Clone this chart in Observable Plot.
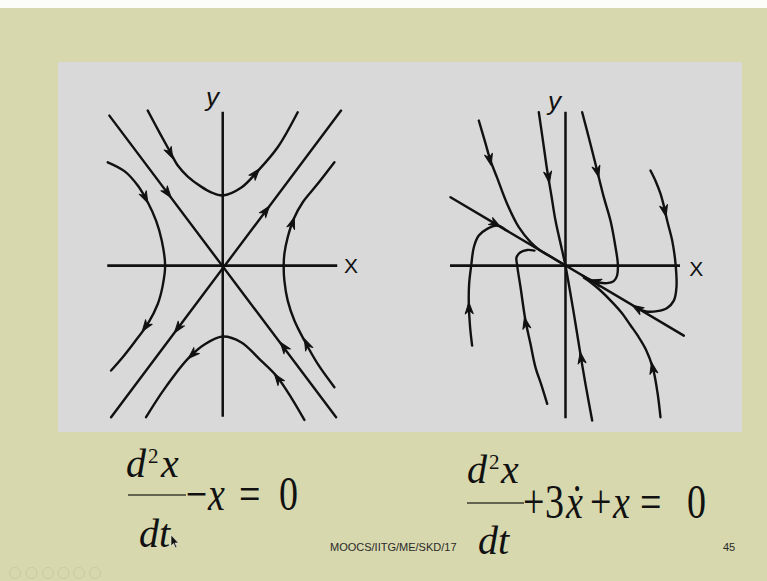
<!DOCTYPE html>
<html>
<head>
<meta charset="utf-8">
<script src="https://cdn.jsdelivr.net/npm/d3@7"></script>
<script src="https://cdn.jsdelivr.net/npm/@observablehq/plot@0.6"></script>
<style>
  html, body { margin: 0; padding: 0; }
  body { width: 767px; height: 581px; overflow: hidden; background: #d7d8ad; }
  #slide { position: relative; width: 767px; height: 581px; }
  #band { position: absolute; left: 0; top: 0; width: 767px; height: 8px; background: #fcfcf8; }
  #panel { position: absolute; left: 58px; top: 62px; width: 684px; height: 370px; background: #d9d9d9; }
  .portrait { position: absolute; top: 70px; }
  .portrait svg { display: block; }
  #saddle { left: 90px; }
  #node { left: 430px; }
  #overlay { position: absolute; left: 0; top: 0; }
</style>
</head>
<body>
<div id="slide">
  <div id="band"></div>
  <div id="panel"></div>
  <div id="saddle" class="portrait"></div>
  <div id="node" class="portrait"></div>
  <svg id="overlay" width="767" height="581" font-family="'Liberation Serif','Times New Roman',serif" fill="#111">
    <!-- d²x/dt² − x = 0 -->
    <text x="126" y="477" font-size="40" font-style="italic">d</text>
    <text x="148" y="463" font-size="21">2</text>
    <text x="161" y="477" font-size="40" font-style="italic">x</text>
    <line x1="128" x2="186" y1="495" y2="495" stroke="#3c3c34" stroke-width="1.6"/>
    <text x="139" y="547" font-size="40" font-style="italic">dt</text>
    <g transform="translate(0,510) scale(1,1.25)" font-size="38">
      <text x="186" y="0">−</text>
      <text x="208" y="0" font-style="italic">x</text>
      <text x="239" y="0">=</text>
      <text x="279" y="0">0</text>
    </g>
    <!-- pointer -->
    <path d="M171,535 L171,546 L173.5,543.5 L175.5,548 L177,547.3 L175,543 L178.5,543 Z" fill="#111" stroke="#f4f4f0" stroke-width="0.6"/>
    <!-- d²x/dt² + 3ẋ + x = 0 -->
    <text x="467" y="483" font-size="40" font-style="italic">d</text>
    <text x="489" y="469" font-size="21">2</text>
    <text x="501" y="483" font-size="40" font-style="italic">x</text>
    <line x1="467" x2="524" y1="503" y2="503" stroke="#3c3c34" stroke-width="1.6"/>
    <text x="478" y="554" font-size="40" font-style="italic">dt</text>
    <g transform="translate(0,518) scale(1,1.3)" font-size="38">
      <text x="523" y="0">+</text>
      <text x="545" y="0">3</text>
      <text x="566" y="0" font-style="italic">x&#x307;</text>
      <text x="590" y="0">+</text>
      <text x="613" y="0" font-style="italic">x</text>
      <text x="640" y="0">=</text>
      <text x="687" y="0">0</text>
    </g>
    <!-- footer -->
    <g font-family="'Liberation Sans',Arial,sans-serif" font-size="11" fill="#2a2a2a">
      <text x="330" y="551">MOOCS/IITG/ME/SKD/17</text>
      <text x="723" y="551">45</text>
    </g>
    <!-- viewer toolbar -->
    <g fill="none" stroke="#c9caa1" stroke-width="1">
      <circle cx="15" cy="573" r="5.5"/>
      <circle cx="31.5" cy="573" r="5.5"/>
      <circle cx="48" cy="573" r="5.5"/>
      <circle cx="63.5" cy="573" r="5.5"/>
      <circle cx="79" cy="573" r="5.5"/>
      <circle cx="95" cy="573" r="5.5"/>
    </g>
  </svg>
</div>
<script>
const INK = "#111";
const yDomain = [-1.078, 1.275];

// ---- Saddle point: x'' - x = 0, phase plane (x, y = x') ----
const saddleXAxis = [-1.0, 1.0];
const saddleYAxis = [-0.991, 1.002];
const saddleStable = [[-0.986, 0.98], [0.986, -0.991]];
const saddleUnstable = [[-0.971, -0.991], [1.029, 1.013]];
const saddleUpper = [[-0.652, 1.013], [-0.551, 0.871], [-0.464, 0.752], [-0.391, 0.654], [-0.304, 0.582],
  [-0.188, 0.516], [-0.101, 0.479], [0, 0.458], [0.159, 0.508], [0.304, 0.617], [0.478, 0.773], [0.652, 1.002]];
const saddleLower = [[-0.667, -0.991], [-0.507, -0.806], [-0.304, -0.61], [-0.159, -0.516], [0, -0.464],
  [0.159, -0.501], [0.333, -0.621], [0.464, -0.719], [0.594, -0.861], [0.71, -1.009]];
const saddleLeft = [[-1.0, 0.675], [-0.855, 0.617], [-0.739, 0.523], [-0.652, 0.414], [-0.58, 0.294],
  [-0.53, 0.163], [-0.501, 0], [-0.522, -0.131], [-0.565, -0.251], [-0.652, -0.381], [-0.768, -0.501],
  [-0.87, -0.599], [-0.971, -0.686]];
const saddleRight = [[0.971, 0.675], [0.826, 0.534], [0.696, 0.414], [0.617, 0.305], [0.565, 0.185],
  [0.536, 0.076], [0.53, 0], [0.536, -0.098], [0.565, -0.229], [0.623, -0.359], [0.71, -0.49],
  [0.826, -0.643], [0.971, -0.795]];
// flow direction markers: [from x, from y, tip x, tip y]
const saddleArrows = [
  [-0.50, 0.80, -0.435, 0.70], [0.25, 0.57, 0.319, 0.632],
  [-0.52, 0.515, -0.449, 0.445], [0.34, 0.323, 0.406, 0.389],
  [-0.71, 0.50, -0.652, 0.41], [0.585, 0.23, 0.623, 0.316],
  [-0.63, -0.355, -0.70, -0.43], [-0.35, -0.369, -0.42, -0.439],
  [-0.22, -0.55, -0.30, -0.607], [0.57, -0.571, 0.50, -0.501],
  [0.53, -0.79, 0.449, -0.708], [0.76, -0.56, 0.71, -0.479]
];
const saddleYLabel = [-0.089, 1.098];
const saddleXLabel = [1.116, -0.007];

// ---- Stable node: x'' + 3x' + x = 0 ----
const nodeXAxis = [-1.0, 1.0];
const nodeYAxis = [-1.002, 1.002];
const nodeSlow = [[-1.0, 0.447], [1.029, -0.458]];
const nodeB = [[-0.754, 0.948], [-0.70, 0.81], [-0.652, 0.686], [-0.595, 0.575], [-0.507, 0.403],
  [-0.406, 0.251], [-0.304, 0.153], [-0.232, 0.105], [-0.12, 0.054], [0, 0]];
const nodeC = [[-0.232, 1.002], [-0.195, 0.81], [-0.159, 0.621], [-0.122, 0.455], [-0.087, 0.294],
  [-0.029, 0.098], [0, 0]];
const nodeD = [[0.145, 1.002], [0.217, 0.795], [0.275, 0.621], [0.333, 0.447], [0.391, 0.294],
  [0.435, 0.12], [0.455, 0.011], [0.449, -0.065], [0.42, -0.102], [0.362, -0.115], [0.29, -0.111],
  [0.217, -0.094], [0.15, -0.066]];
const nodeE = [[0.739, 0.621], [0.785, 0.55], [0.826, 0.47], [0.862, 0.37], [0.884, 0.294], [0.928, 0.163],
  [0.957, 0.011], [0.965, -0.142], [0.942, -0.229], [0.884, -0.277], [0.797, -0.298], [0.70, -0.30],
  [0.62, -0.278]];
const nodeF = [[-0.812, -0.523], [-0.83, -0.40], [-0.841, -0.25], [-0.838, -0.12], [-0.82, 0],
  [-0.797, 0.12], [-0.754, 0.196], [-0.681, 0.24], [-0.594, 0.262], [-0.52, 0.232]];
const nodeG = [[-0.159, -0.904], [-0.21, -0.78], [-0.261, -0.665], [-0.305, -0.51], [-0.348, -0.359],
  [-0.391, -0.142], [-0.42, 0], [-0.426, 0.054], [-0.391, 0.087], [-0.333, 0.102], [-0.27, 0.098]];
const nodeH = [[0, 0], [0.04, -0.17], [0.085, -0.37], [0.13, -0.58], [0.175, -0.78], [0.232, -1.013]];
const nodeI = [[0.826, -0.991], [0.80, -0.83], [0.76, -0.67], [0.70, -0.55], [0.63, -0.46], [0.565, -0.39],
  [0.49, -0.31], [0.42, -0.25], [0.304, -0.163], [0.217, -0.109], [0.16, -0.08]];
const nodeArrows = [
  [-0.68, 0.76, -0.646, 0.655], [-0.165, 0.66, -0.14, 0.54], [0.255, 0.68, 0.29, 0.577],
  [0.845, 0.42, 0.875, 0.32], [-0.65, 0.29, -0.565, 0.253], [0.67, -0.30, 0.58, -0.259],
  [0.29, -0.111, 0.212, -0.094], [-0.835, -0.36, -0.841, -0.24], [-0.315, -0.49, -0.357, -0.338],
  [0.155, -0.69, 0.128, -0.565], [0.775, -0.73, 0.748, -0.632]
];
const nodeYLabel = [-0.096, 1.072];
const nodeXLabel = [1.137, -0.022];

// barbed arrowhead with its tip at the anchor point
const headShape = {
  draw(context, l) {
    context.moveTo(0, -l);
    context.lineTo(-4, -l + 11.5);
    context.lineTo(0, -l + 8);
    context.lineTo(4, -l + 11.5);
    context.closePath();
  }
};

function portrait(el, {width, xDomain, xAxis, yAxis, curves, arrows, yLabel, xLabel}) {
  const height = 360;
  const kx = width / (xDomain[1] - xDomain[0]);
  const ky = height / (yDomain[1] - yDomain[0]);
  const pts = curves.flatMap((c, k) => c.map(([x, y]) => ({x, y, k})));
  const heads = arrows.map(([x1, y1, x2, y2]) => ({
    x: x2, y: y2,
    r: Math.atan2((x2 - x1) * kx, (y2 - y1) * ky) * 180 / Math.PI
  }));
  const chart = Plot.plot({
    width, height, margin: 0,
    x: {domain: xDomain, axis: null},
    y: {domain: yDomain, axis: null},
    style: {background: "transparent", overflow: "visible"},
    marks: [
      Plot.ruleY([{y: 0, x1: xAxis[0], x2: xAxis[1]}], {y: "y", x1: "x1", x2: "x2", stroke: INK, strokeWidth: 2.8}),
      Plot.ruleX([{x: 0, y1: yAxis[0], y2: yAxis[1]}], {x: "x", y1: "y1", y2: "y2", stroke: INK, strokeWidth: 2.5}),
      Plot.line(pts, {x: "x", y: "y", z: "k", curve: "catmull-rom", stroke: INK, strokeWidth: 2.4,
        strokeLinecap: "round", strokeLinejoin: "round"}),
      Plot.vector(heads, {x: "x", y: "y", rotate: "r", length: 11, anchor: "end", shape: headShape,
        fill: INK, stroke: INK, strokeWidth: 1}),
      Plot.text([{x: yLabel[0], y: yLabel[1], t: "y"}], {x: "x", y: "y", text: "t", fontSize: 26,
        fontFamily: "Liberation Sans", fontStyle: "italic", fill: INK}),
      Plot.text([{x: xLabel[0], y: xLabel[1], t: "X"}], {x: "x", y: "y", text: "t", fontSize: 21,
        fontFamily: "'Liberation Sans Narrow', 'Liberation Sans'", fill: INK})
    ]
  });
  document.getElementById(el).append(chart);
}

portrait("saddle", {
  width: 280, xDomain: [-1.15, 1.285], xAxis: saddleXAxis, yAxis: saddleYAxis,
  curves: [saddleStable, saddleUnstable, saddleUpper, saddleLower, saddleLeft, saddleRight],
  arrows: saddleArrows, yLabel: saddleYLabel, xLabel: saddleXLabel
});

portrait("node", {
  width: 300, xDomain: [-1.174, 1.435], xAxis: nodeXAxis, yAxis: nodeYAxis,
  curves: [nodeSlow, nodeB, nodeC, nodeD, nodeE, nodeF, nodeG, nodeH, nodeI],
  arrows: nodeArrows, yLabel: nodeYLabel, xLabel: nodeXLabel
});
</script>
</body>
</html>
